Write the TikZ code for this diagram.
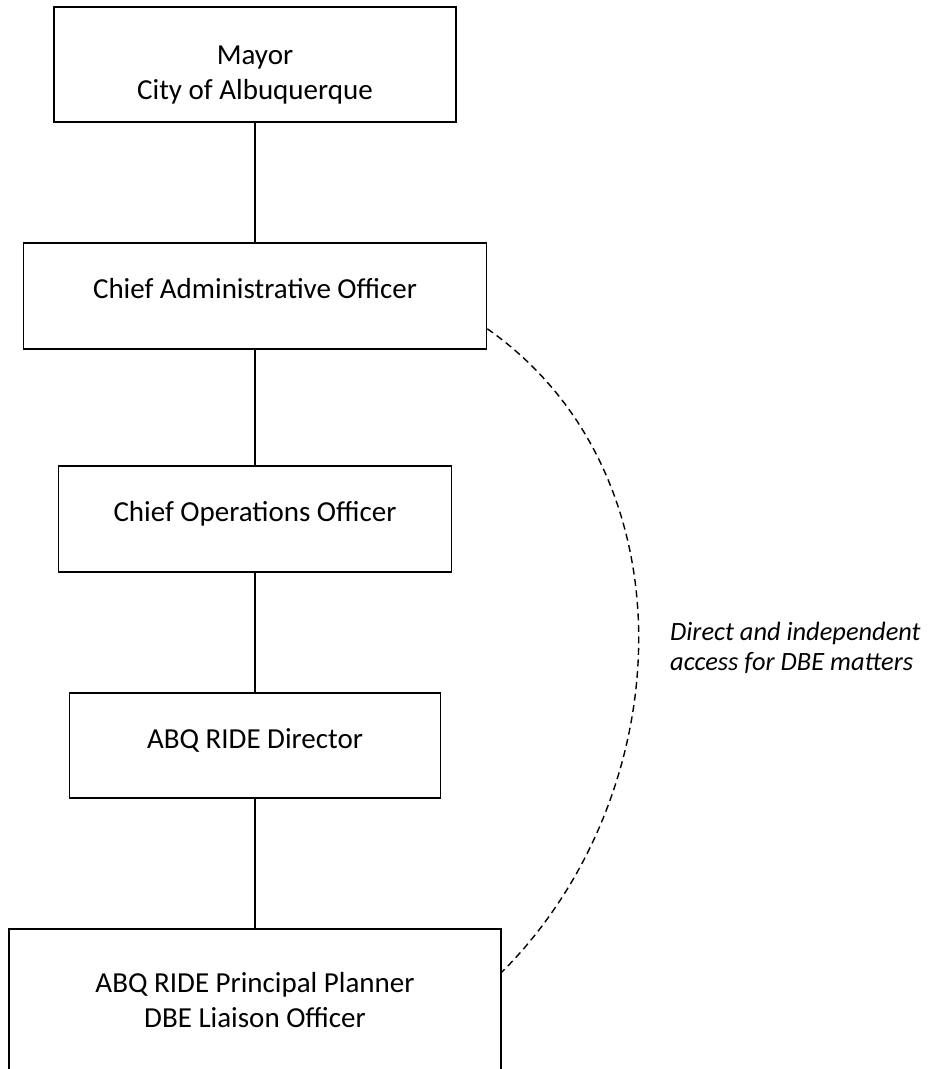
\documentclass[tikz,border=0pt]{standalone}
\usepackage{fontspec}
\setmainfont{Carlito}
\usepackage{tikz}
\definecolor{black}{RGB}{0,0,0}

\begin{document}
\begin{tikzpicture}[x=1pt,y=1pt,
	office/.style={rectangle,draw=black,line width=1.6pt,inner sep=0pt,align=center,font=\fontsize{29}{35}\selectfont},
	oneline/.style={text height=20pt,text depth=14pt}]
	\useasboundingbox (0,0) rectangle (942,1069);
	\node[office,minimum width=402pt,minimum height=115pt] (mayor) at (255,1004.5) {\rule{0pt}{40pt}Mayor\\City of Albuquerque};
	\node[office,oneline,minimum width=463pt,minimum height=106pt] (cao) at (255,773) {Chief Administrative Officer};
	\node[office,oneline,minimum width=393pt,minimum height=106pt] (coo) at (255,550) {Chief Operations Officer};
	\node[office,oneline,minimum width=371pt,minimum height=105pt] (dir) at (255,323.5) {ABQ RIDE Director};
	\node[office,minimum width=492pt,minimum height=143pt] (dlo) at (255,68.5) {ABQ RIDE Principal Planner\\DBE Liaison Officer};
	
	\foreach \x/\y in {mayor/cao,cao/coo,coo/dir,dir/dlo}
		\draw[black,line width=1.6pt] (\x) -- (\y);
	
	\draw[black,line width=1.4pt,dash pattern=on 7pt off 4.5pt] ([yshift=21pt]cao.south east) to[out=-35,in=45] ([yshift=-44pt]dlo.north east);
	\node[align=left,anchor=west,inner sep=0pt,font=\fontsize{26.4}{30}\selectfont\itshape] (note) at (670,421.5) {Direct and independent\\access for DBE matters};
\end{tikzpicture}
\end{document}
